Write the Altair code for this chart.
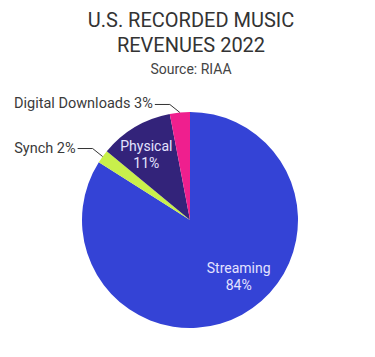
import math
import altair as alt
import pandas as pd

# ---- data ----
categories = ["Streaming", "Synch", "Physical", "Digital Downloads"]
shares = [84, 2, 11, 3]
colors = ["#3443d6", "#c9f04b", "#33237a", "#ef1f8e"]
title_lines = ["U.S. RECORDED MUSIC", "REVENUES 2022"]
subtitle = "Source: RIAA"

# ---- layout constants ----
W, H = 375, 357
CX, CY, R = 190, 220, 108
FONT = "Roboto"

df = pd.DataFrame({"category": categories, "share": shares, "order": range(len(categories))})
df["label"] = df["category"] + "\n" + df["share"].astype(str) + "%"

color_scale = alt.Scale(domain=categories, range=colors)
base = alt.Chart(df).encode(
    theta=alt.Theta("share:Q", stack=True),
    order=alt.Order("order:Q"),
    x=alt.value(CX),
    y=alt.value(CY),
)

pie = base.mark_arc(radius=R).encode(
    color=alt.Color("category:N", scale=color_scale, legend=None)
)

def inside_label(cat, dx, dy):
    return base.mark_text(
        radius=74, font=FONT, fontSize=14, lineHeight=17, color="#e4e2ff",
        lineBreak="\n", dx=dx, dy=dy
    ).encode(
        text=alt.condition(f"datum.category == '{cat}'", "label:N", alt.value(""))
    )

in_stream = inside_label("Streaming", 13, -16)
in_phys = inside_label("Physical", -6, -9)

# outside leader lines computed from the slice angles
total = sum(shares)
rows = []
cum = 0
for c, s in zip(categories, shares):
    mid = (cum + s / 2) / total * 2 * math.pi
    cum += s
    if s > 5:
        continue
    ex = CX + R * math.sin(mid)
    ey = CY - R * math.cos(mid)
    kx, ky = ex - 10, ey - 8
    hx = kx - 15
    rows.append({"x": ex, "y": ey, "x2": kx, "y2": ky, "label": ""})
    rows.append({"x": kx, "y": ky, "x2": hx, "y2": ky, "label": f"{c} {s}%"})
lines = pd.DataFrame(rows)

lead = alt.Chart(lines).mark_rule(color="#333333", strokeWidth=1).encode(
    x=alt.X("x:Q", scale=None), y=alt.Y("y:Q", scale=None),
    x2="x2:Q", y2="y2:Q",
)
lead_text = alt.Chart(lines).transform_filter("datum.label != ''").mark_text(
    align="right", baseline="middle", font=FONT, fontSize=14.5, color="#3a3a3a", dx=-2
).encode(
    x=alt.X("x2:Q", scale=None), y=alt.Y("y2:Q", scale=None), text="label:N"
)

tdf = pd.DataFrame({"t": title_lines + [subtitle], "i": [0, 1, 2]})
def ttext(i, size, y, color):
    return alt.Chart(tdf).transform_filter(f"datum.i == {i}").mark_text(
        font=FONT, fontSize=size, color=color, baseline="alphabetic"
    ).encode(x=alt.value(191), y=alt.value(y), text="t:N")

title1 = ttext(0, 20, 27, "#333333")
title2 = ttext(1, 20, 52, "#333333")
sub = ttext(2, 14, 74, "#444444")

chart = alt.layer(pie, in_stream, in_phys, lead, lead_text, title1, title2, sub).properties(
    width=W, height=H, autosize=alt.AutoSizeParams(type="none"), padding=0,
    background="white"
).configure_view(stroke=None)

chart.save("out.html", embed_options={"renderer": "svg", "actions": False})
